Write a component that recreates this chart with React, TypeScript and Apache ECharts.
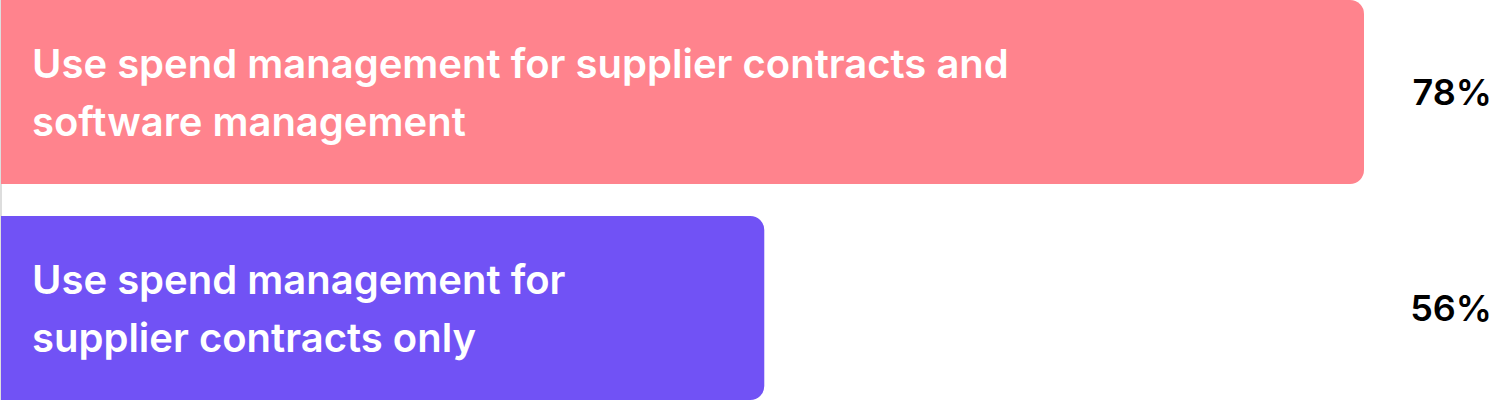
import { useEffect, useRef } from 'react'
import * as echarts from 'echarts'

const categories = [
  'Use spend management for supplier contracts and\nsoftware management',
  'Use spend management for\nsupplier contracts only',
]
const values = [78, 56]
const valueLabels = ['78%', '56%']
const barColors = ['#FF838D', '#7152F5']

export default function App() {
  const chartRef = useRef<HTMLDivElement>(null)

  useEffect(() => {
    if (!chartRef.current) return
    const chart = echarts.init(chartRef.current, null, { renderer: 'svg' })

    chart.setOption({
      animation: false,
      backgroundColor: '#ffffff',
      textStyle: { fontFamily: 'Inter' },
      grid: { left: 1, right: 132, top: 0, bottom: 0 },
      xAxis: {
        type: 'value',
        min: 28,
        max: 78,
        show: false,
      },
      yAxis: [
        {
          type: 'category',
          data: categories,
          inverse: true,
          axisLine: { show: true, lineStyle: { color: '#dddddd', width: 2 } },
          axisTick: { show: false },
          axisLabel: { show: false },
        },
        {
          type: 'category',
          data: valueLabels,
          inverse: true,
          position: 'right',
          axisLine: { show: false },
          axisTick: { show: false },
          axisLabel: {
            align: 'right',
            margin: 128,
            color: '#000000',
            fontSize: 36,
            fontWeight: 600,
            fontFamily: 'Inter',
          },
        },
      ],
      series: [
        {
          type: 'bar',
          barWidth: 184,
          z: 3,
          data: values.map((v, i) => ({
            value: v,
            itemStyle: { color: barColors[i], borderRadius: [0, 14, 14, 0] },
          })),
          label: {
            show: true,
            position: 'insideLeft',
            distance: 31,
            formatter: (p: any) => categories[p.dataIndex],
            color: '#ffffff',
            fontSize: 40,
            fontWeight: 600,
            fontFamily: 'Inter',
            lineHeight: 58,
            align: 'left',
          },
        },
      ],
    })

    return () => {
      chart.dispose()
    }
  }, [])

  // the plot is 432px tall so the two bands are 216px apart; the outer box crops it to 400px
  return (
    <div style={{ position: 'absolute', left: 0, top: 0, width: 1496, height: 400, overflow: 'hidden' }}>
      <div
        ref={chartRef}
        style={{ position: 'absolute', left: 0, top: -16, width: 1496, height: 432 }}
      />
    </div>
  )
}
